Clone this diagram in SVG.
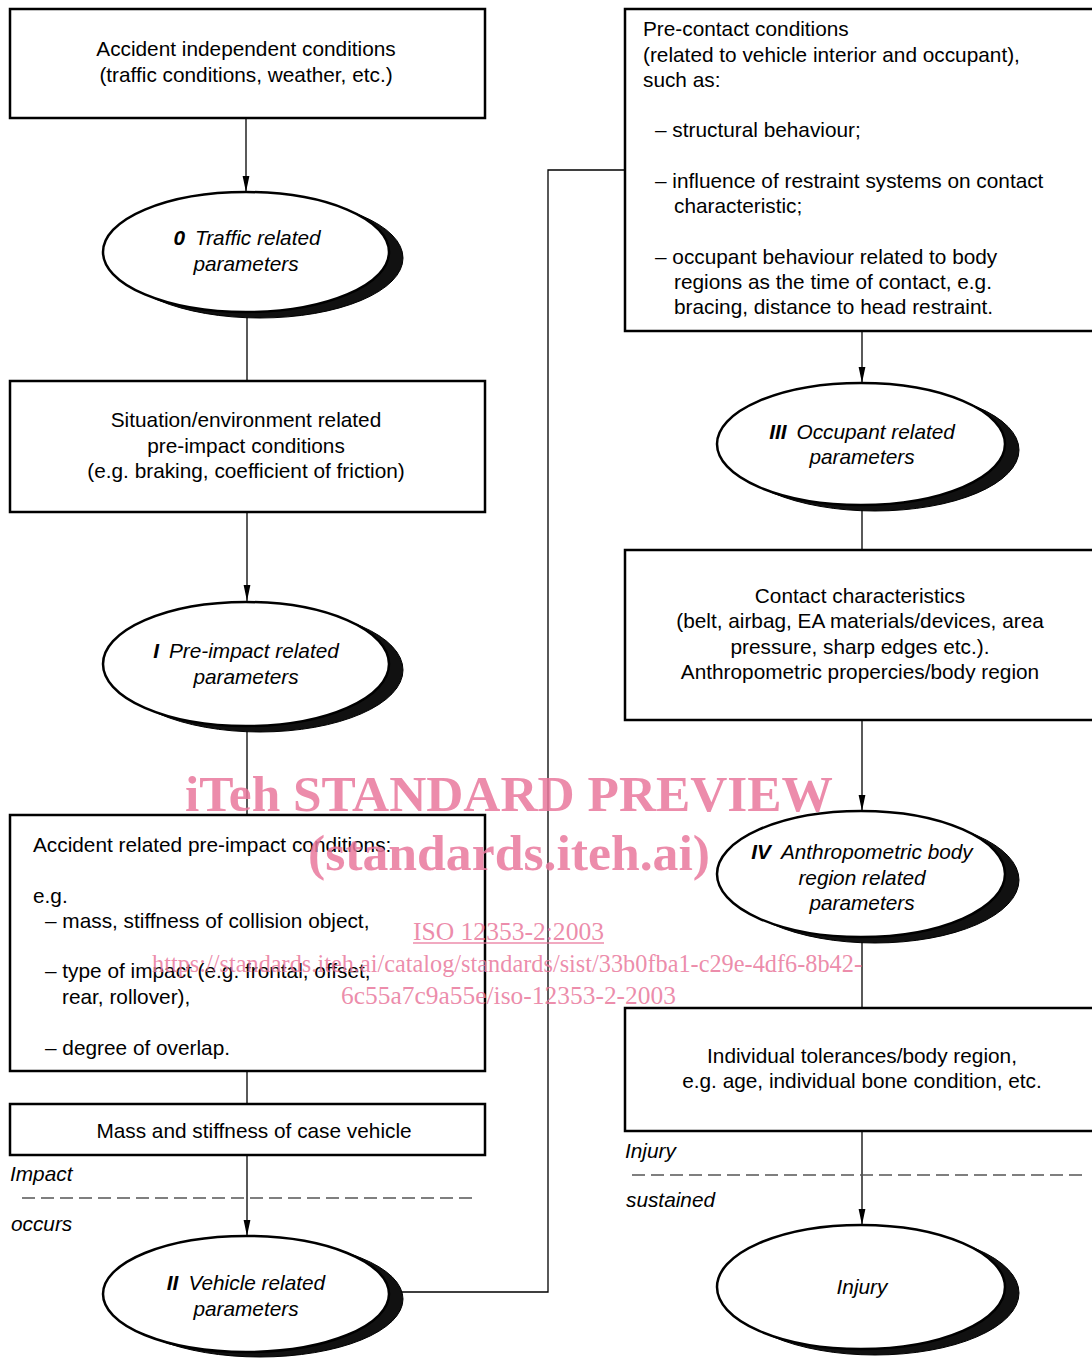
<svg xmlns="http://www.w3.org/2000/svg" width="1092" height="1358" viewBox="0 0 1092 1358">
<defs>
<marker id="arr" markerWidth="16" markerHeight="8" refX="16" refY="4" orient="auto" markerUnits="userSpaceOnUse">
<path d="M0,0.6 L16,4 L0,7.4 Z" fill="#000"/>
</marker>
<style>
.box{fill:#fff;stroke:#000;stroke-width:2.5}
.ell{fill:#fff;stroke:#000;stroke-width:2.5}
.sh{fill:#111;stroke:#000;stroke-width:1}
.t{font-family:"Liberation Sans",Arial,sans-serif;font-size:20.8px;fill:#000}
.c{text-anchor:middle}
.i{font-style:italic}
.b{font-weight:bold}
.con{fill:none;stroke:#000;stroke-width:1.3}
.dash{fill:none;stroke:#555;stroke-width:1.5;stroke-dasharray:13,6}
.wm{font-family:"Liberation Serif","Times New Roman",serif;fill:#e9789c;fill-opacity:0.85}
</style>
</defs>
<rect width="1092" height="1358" fill="#fff"/>

<g id="connectors">
<line class="con" x1="246" y1="118" x2="246" y2="192" marker-end="url(#arr)"/>
<line class="con" x1="247" y1="312" x2="247" y2="381"/>
<line class="con" x1="247" y1="512" x2="247" y2="601" marker-end="url(#arr)"/>
<line class="con" x1="247" y1="726" x2="247" y2="815"/>
<line class="con" x1="247" y1="1071" x2="247" y2="1104"/>
<line class="con" x1="247" y1="1155" x2="247" y2="1236" marker-end="url(#arr)"/>
<polyline class="con" points="400,1292 548,1292 548,170 625,170"/>
<line class="con" x1="862" y1="331" x2="862" y2="383" marker-end="url(#arr)"/>
<line class="con" x1="862" y1="505" x2="862" y2="550"/>
<line class="con" x1="862" y1="720" x2="862" y2="811" marker-end="url(#arr)"/>
<line class="con" x1="862" y1="937" x2="862" y2="1008"/>
<line class="con" x1="862" y1="1131" x2="862" y2="1225" marker-end="url(#arr)"/>
<line class="dash" x1="22" y1="1198" x2="472" y2="1198"/>
<line class="dash" x1="632" y1="1175" x2="1088" y2="1175"/>
</g>

<g id="node-accident-independent">
<rect class="box" x="10" y="9" width="475" height="109"/>
<text class="t c" x="246" y="56">Accident independent conditions</text>
<text class="t c" x="246" y="82">(traffic conditions, weather, etc.)</text>
</g>

<g id="node-0">
<ellipse class="sh" cx="260" cy="258" rx="143" ry="60"/>
<ellipse class="ell" cx="246" cy="252" rx="143" ry="60"/>
<text class="t c i" x="247" y="245"><tspan class="b">0</tspan><tspan dx="10">Traffic related</tspan></text>
<text class="t c i" x="246" y="271">parameters</text>
</g>

<g id="node-situation">
<rect class="box" x="10" y="381" width="475" height="131"/>
<text class="t c" x="246" y="427">Situation/environment related</text>
<text class="t c" x="246" y="453">pre-impact conditions</text>
<text class="t c" x="246" y="478">(e.g. braking, coefficient of friction)</text>
</g>

<g id="node-I">
<ellipse class="sh" cx="260" cy="670" rx="143" ry="62"/>
<ellipse class="ell" cx="246" cy="664" rx="143" ry="62"/>
<text class="t c i" x="246" y="658"><tspan class="b">I</tspan><tspan dx="10">Pre-impact related</tspan></text>
<text class="t c i" x="246" y="684">parameters</text>
</g>

<g id="node-accident-related">
<rect class="box" x="10" y="815" width="475" height="256"/>
<text class="t" x="33" y="852">Accident related pre-impact conditions:</text>
<text class="t" x="33" y="903">e.g.</text>
<text class="t" x="45" y="928">– mass, stiffness of collision object,</text>
<text class="t" x="45" y="978">– type of impact (e.g. frontal, offset,</text>
<text class="t" x="62" y="1004">rear, rollover),</text>
<text class="t" x="45" y="1055">– degree of overlap.</text>
</g>

<g id="node-mass">
<rect class="box" x="10" y="1104" width="475" height="51"/>
<text class="t c" x="254" y="1138">Mass and stiffness of case vehicle</text>
</g>

<g id="label-impact">
<text class="t i" x="10" y="1181">Impact</text>
<text class="t i" x="11" y="1231">occurs</text>
</g>

<g id="node-II">
<ellipse class="sh" cx="260" cy="1299" rx="143" ry="58"/>
<ellipse class="ell" cx="246" cy="1294" rx="143" ry="58"/>
<text class="t c i" x="246" y="1290"><tspan class="b">II</tspan><tspan dx="10">Vehicle related</tspan></text>
<text class="t c i" x="246" y="1316">parameters</text>
</g>

<g id="node-pre-contact">
<rect class="box" x="625" y="9" width="480" height="322"/>
<text class="t" x="643" y="36">Pre-contact conditions</text>
<text class="t" x="643" y="62">(related to vehicle interior and occupant),</text>
<text class="t" x="643" y="87">such as:</text>
<text class="t" x="655" y="137">– structural behaviour;</text>
<text class="t" x="655" y="188">– influence of restraint systems on contact</text>
<text class="t" x="674" y="213">characteristic;</text>
<text class="t" x="655" y="264">– occupant behaviour related to body</text>
<text class="t" x="674" y="289">regions as the time of contact, e.g.</text>
<text class="t" x="674" y="314">bracing, distance to head restraint.</text>
</g>

<g id="node-III">
<ellipse class="sh" cx="875" cy="450" rx="144" ry="61"/>
<ellipse class="ell" cx="861" cy="444" rx="144" ry="61"/>
<text class="t c i" x="862" y="439"><tspan class="b">III</tspan><tspan dx="10">Occupant related</tspan></text>
<text class="t c i" x="862" y="464">parameters</text>
</g>

<g id="node-contact">
<rect class="box" x="625" y="550" width="480" height="170"/>
<text class="t c" x="860" y="603">Contact characteristics</text>
<text class="t c" x="860" y="628">(belt, airbag, EA materials/devices, area</text>
<text class="t c" x="860" y="654">pressure, sharp edges etc.).</text>
<text class="t c" x="860" y="679">Anthropometric propercies/body region</text>
</g>

<g id="node-IV">
<ellipse class="sh" cx="875" cy="880" rx="144" ry="63"/>
<ellipse class="ell" cx="861" cy="874" rx="144" ry="63"/>
<text class="t c i" x="862" y="859"><tspan class="b">IV</tspan><tspan dx="10">Anthropometric body</tspan></text>
<text class="t c i" x="862" y="885">region related</text>
<text class="t c i" x="862" y="910">parameters</text>
</g>

<g id="node-tolerances">
<rect class="box" x="625" y="1008" width="480" height="123"/>
<text class="t c" x="862" y="1063">Individual tolerances/body region,</text>
<text class="t c" x="862" y="1088">e.g. age, individual bone condition, etc.</text>
</g>

<g id="label-injury">
<text class="t i" x="625" y="1158">Injury</text>
<text class="t i" x="626" y="1207">sustained</text>
</g>

<g id="node-injury">
<ellipse class="sh" cx="875" cy="1293" rx="144" ry="62"/>
<ellipse class="ell" cx="861" cy="1287" rx="144" ry="62"/>
<text class="t c i" x="862" y="1294">Injury</text>
</g>

<g id="watermark">
<text class="wm" x="185" y="811" font-size="50" font-weight="bold" textLength="648" lengthAdjust="spacingAndGlyphs">iTeh STANDARD PREVIEW</text>
<text class="wm" x="308" y="870" font-size="51" font-weight="bold" textLength="402" lengthAdjust="spacingAndGlyphs">(standards.iteh.ai)</text>
<text class="wm" x="413" y="940" font-size="26" textLength="191" lengthAdjust="spacingAndGlyphs">ISO 12353-2:2003</text>
<line x1="413" y1="943" x2="604" y2="943" stroke="#e9789c" stroke-opacity="0.85" stroke-width="1.5"/>
<text class="wm" x="152" y="972" font-size="26" textLength="710" lengthAdjust="spacingAndGlyphs">https://standards.iteh.ai/catalog/standards/sist/33b0fba1-c29e-4df6-8b42-</text>
<text class="wm" x="341" y="1004" font-size="26" textLength="335" lengthAdjust="spacingAndGlyphs">6c55a7c9a55e/iso-12353-2-2003</text>
</g>
</svg>
